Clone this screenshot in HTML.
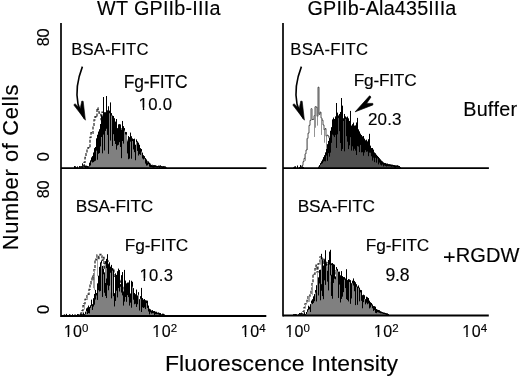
<!DOCTYPE html>
<html><head><meta charset="utf-8"><style>
html,body{margin:0;padding:0;background:#fff;width:520px;height:377px;overflow:hidden}
svg{display:block;filter:grayscale(1)}
text{font-family:"Liberation Sans",sans-serif;font-kerning:none;fill:#000;stroke:#000;stroke-width:0.15px}
.tp{stroke:#000;stroke-width:0.15px}
</style></head><body>
<svg width="520" height="377" viewBox="0 0 520 377">
<path d="M74.0,168.1V167.21h1V168.1zM75.0,168.1V166.38h1V168.1zM76.0,168.1V167.47h1V168.1zM77.0,168.1V166.55h1V168.1zM79.0,168.1V166.07h1V168.1zM80.0,168.1V166.36h1V168.1zM81.0,168.1V166.08h1V168.1zM82.0,168.1V165.47h1V168.1zM83.0,168.1V164.94h1V168.1zM84.0,168.1V164.58h1V168.1zM85.0,168.1V165.63h1V168.1zM86.0,168.1V165.71h1V168.1zM87.0,168.1V165.95h1V168.1z" fill="#808080" stroke="none"/>
<path d="M74.5,167.21V168.10M74.5,166.05V168.21M75.5,166.38V167.88M76.5,167.47V168.10M77.5,166.55V168.10M79.5,166.07V167.69M80.5,166.36V167.86M81.5,166.08V168.10M82.5,165.47V167.97M82.5,163.35V166.47M83.5,164.94V166.64M84.5,164.58V167.08M85.5,165.63V168.10M86.5,165.71V167.63M87.5,165.95V168.10" fill="none" stroke="#000" stroke-width="1.0"/>
<path d="M80.0,168.1V167.71H81.0V167.13H82.0V166.45H83.0V165.55H84.0V162.47H85.0V157.51H86.0V153.58H87.0V149.17H88.0V147.58H89.0V147.86H90.0V137.47H91.0V132.61H92.0V133.47H93.0V125.34H94.0V119.97H95.0V116.68H96.0V117.18H97.0V108.00H98.0V109.70H99.0V113.13H100.0V114.50H101.0V119.54H102.0V112.04H103.0V114.45H104.0V123.90H105.0V117.48H106.0V116.41H107.0V122.32H108.0V113.32H109.0V117.56H110.0V123.93H111.0V121.15H112.0V125.20H113.0V124.32H114.0V127.25H115.0V123.50H116.0V128.56H117.0V132.14H118.0V129.19H119.0V133.18H120.0V128.67H121.0V133.02H122.0V137.85H123.0V133.42H124.0V133.89H125.0V140.26H126.0V144.62H127.0V140.18H128.0V142.76H129.0V144.63H130.0V147.67H131.0V147.10H132.0V147.66H133.0V148.21H134.0V147.83H135.0V148.39H136.0V152.07H137.0V153.16H138.0V156.36H139.0V154.97H140.0V154.97H141.0V157.45H142.0V157.82H143.0V158.17H144.0V159.42H145.0V159.56H146.0V161.37H147.0V161.83H148.0V162.97H149.0V163.83H150.0V164.83H151.0V165.25H152.0V165.76H153.0V166.52H154.0V167.23H155.0V167.83H156.0V168.1" fill="none" stroke="#333" stroke-width="1.3" stroke-dasharray="3 1.5"/>
<path d="M88.0,168.1V166.35h1V168.1zM89.0,168.1V163.62h1V168.1zM90.0,168.1V160.48h1V168.1zM91.0,168.1V157.50h1V168.1zM92.0,168.1V156.13h1V168.1zM93.0,168.1V152.62h1V168.1zM94.0,168.1V148.18h1V168.1zM95.0,168.1V146.98h1V168.1zM96.0,168.1V139.80h1V168.1zM97.0,168.1V139.73h1V168.1zM98.0,168.1V131.63h1V168.1zM99.0,168.1V129.32h1V168.1zM100.0,168.1V132.72h1V168.1zM101.0,168.1V117.23h1V168.1zM102.0,168.1V116.25h1V168.1zM103.0,168.1V120.05h1V168.1zM104.0,168.1V112.32h1V168.1zM105.0,168.1V112.34h1V168.1zM106.0,168.1V105.93h1V168.1zM107.0,168.1V110.41h1V168.1zM108.0,168.1V111.59h1V168.1zM109.0,168.1V110.72h1V168.1zM110.0,168.1V113.58h1V168.1zM111.0,168.1V113.13h1V168.1zM112.0,168.1V118.49h1V168.1zM113.0,168.1V119.63h1V168.1zM114.0,168.1V118.33h1V168.1zM115.0,168.1V121.70h1V168.1zM116.0,168.1V122.55h1V168.1zM117.0,168.1V128.24h1V168.1zM118.0,168.1V124.46h1V168.1zM119.0,168.1V124.13h1V168.1zM120.0,168.1V124.54h1V168.1zM121.0,168.1V129.85h1V168.1zM122.0,168.1V124.19h1V168.1zM123.0,168.1V126.19h1V168.1zM124.0,168.1V128.12h1V168.1zM125.0,168.1V131.93h1V168.1zM126.0,168.1V132.14h1V168.1zM127.0,168.1V141.45h1V168.1zM128.0,168.1V136.11h1V168.1zM129.0,168.1V137.19h1V168.1zM130.0,168.1V139.11h1V168.1zM131.0,168.1V136.32h1V168.1zM132.0,168.1V138.56h1V168.1zM133.0,168.1V139.09h1V168.1zM134.0,168.1V138.72h1V168.1zM135.0,168.1V144.79h1V168.1zM136.0,168.1V139.50h1V168.1zM137.0,168.1V141.41h1V168.1zM138.0,168.1V142.75h1V168.1zM139.0,168.1V144.86h1V168.1zM140.0,168.1V148.24h1V168.1zM141.0,168.1V149.10h1V168.1zM142.0,168.1V152.67h1V168.1zM143.0,168.1V155.31h1V168.1zM144.0,168.1V156.19h1V168.1zM145.0,168.1V158.11h1V168.1zM146.0,168.1V159.81h1V168.1zM147.0,168.1V162.46h1V168.1zM148.0,168.1V161.73h1V168.1zM149.0,168.1V162.80h1V168.1zM150.0,168.1V164.31h1V168.1zM151.0,168.1V164.97h1V168.1zM152.0,168.1V165.35h1V168.1zM153.0,168.1V165.20h1V168.1zM154.0,168.1V165.13h1V168.1zM155.0,168.1V165.30h1V168.1zM156.0,168.1V165.79h1V168.1zM157.0,168.1V166.01h1V168.1zM158.0,168.1V165.63h1V168.1zM159.0,168.1V165.70h1V168.1zM160.0,168.1V165.77h1V168.1zM161.0,168.1V166.04h1V168.1zM162.0,168.1V166.29h1V168.1zM163.0,168.1V166.14h1V168.1zM164.0,168.1V166.33h1V168.1zM165.0,168.1V166.54h1V168.1zM166.0,168.1V167.58h1V168.1z" fill="#808080" stroke="none"/>
<path d="M88.5,166.35V167.85M89.5,163.62V166.36M89.5,162.70V164.62M90.5,160.48V165.45M91.5,157.50V161.60M92.5,156.13V162.53M93.5,152.62V162.12M94.5,148.18V161.28M95.5,146.98V160.68M96.5,139.80V150.70M96.5,138.33V140.80M97.5,139.73V159.77M97.5,134.73V140.73M98.5,131.63V153.75M99.5,129.32V153.08M100.5,132.72V146.40M100.5,124.03V133.72M101.5,117.23V137.00M101.5,115.08V118.23M102.5,116.25V153.30M103.5,120.05V134.61M104.5,112.32V150.49M105.5,112.34V130.92M106.5,105.93V128.79M107.5,110.41V134.90M108.5,111.59V153.87M108.5,106.25V112.59M109.5,110.72V113.22M110.5,113.58V140.56M111.5,113.13V115.63M112.5,118.49V145.98M112.5,115.50V119.49M113.5,119.63V134.23M114.5,118.33V140.92M115.5,121.70V143.99M116.5,122.55V149.60M117.5,128.24V145.50M118.5,124.46V144.81M119.5,124.13V142.16M120.5,124.54V146.99M121.5,129.85V158.21M122.5,124.19V141.01M122.5,120.96V125.19M123.5,126.19V143.62M124.5,128.12V130.62M125.5,131.93V134.43M126.5,132.14V134.64M127.5,141.45V153.42M128.5,136.11V159.21M129.5,137.19V158.59M130.5,139.11V141.61M130.5,132.58V140.11M131.5,136.32V158.76M132.5,138.56V141.06M133.5,139.09V149.45M134.5,138.72V152.16M135.5,144.79V160.24M136.5,139.50V142.00M137.5,141.41V150.93M138.5,142.75V155.54M139.5,144.86V154.17M140.5,148.24V154.88M141.5,149.10V151.60M142.5,152.67V158.49M143.5,155.31V159.46M144.5,156.19V158.69M145.5,158.11V163.62M146.5,159.81V165.58M147.5,162.46V165.37M148.5,161.73V164.23M149.5,162.80V166.74M150.5,164.31V167.04M151.5,164.97V167.04M152.5,165.35V167.41M153.5,165.20V167.70M154.5,165.13V167.34M155.5,165.30V167.05M156.5,165.79V167.29M157.5,166.01V167.51M158.5,165.63V167.13M159.5,165.70V168.10M160.5,165.77V167.27M160.5,165.45V166.77M161.5,166.04V167.54M162.5,166.29V168.10M163.5,166.14V168.10M164.5,166.33V167.83M165.5,166.54V168.04M166.5,167.58V168.10M103.5,97.00V123.05M106.5,96.00V108.93M110.5,102.40V116.58M113.5,116.00V122.63M116.5,119.00V125.55M122.5,125.30V127.19" fill="none" stroke="#000" stroke-width="1.0"/>
<path d="M293.0,168.1V167.52h1V168.1zM294.0,168.1V166.64h1V168.1zM295.0,168.1V166.43h1V168.1zM297.0,168.1V166.62h1V168.1zM299.0,168.1V166.98h1V168.1zM300.0,168.1V166.58h1V168.1zM301.0,168.1V166.73h1V168.1zM302.0,168.1V166.62h1V168.1zM303.0,168.1V166.99h1V168.1z" fill="#555555" stroke="none"/>
<path d="M293.5,167.52V168.10M294.5,166.64V168.10M295.5,166.43V168.10M297.5,166.62V168.10M297.5,165.52V167.62M299.5,166.98V168.10M300.5,166.58V168.10M300.5,165.07V167.58M301.5,166.73V168.10M302.5,166.62V168.10M303.5,166.99V168.10" fill="none" stroke="#000" stroke-width="1.0"/>
<path d="M299.0,168.1V168.10H300.0V167.56H301.0V167.05H302.0V165.42H303.0V161.66H304.0V158.40H305.0V153.91H306.0V149.98H307.0V138.41H308.0V133.12H309.0V125.35H310.0V120.36H311.0V108.70H312.0V119.54H313.0V119.27H314.0V115.72H315.0V106.74H316.0V107.12H317.0V116.33H318.0V87.20H319.0V114.34H320.0V112.12H321.0V118.12H322.0V120.16H323.0V124.94H324.0V129.85H325.0V128.57H326.0V136.22H327.0V135.13H328.0V136.04H329.0V138.11H330.0V141.37H331.0V146.24H332.0V149.83H333.0V152.36H334.0V154.72H335.0V157.92H336.0V161.01H337.0V162.64H338.0V165.23H339.0V167.10H340.0V168.1" fill="none" stroke="#2a2a2a" stroke-width="0.8"/>
<path d="M305.5,153.91V160.77M307.5,138.41V150.05M311.5,108.70V119.65M314.5,115.72V136.96M315.5,106.74V127.73M317.5,116.33V125.64M321.5,118.12V134.93M324.5,129.85V142.71M326.5,136.22V150.15M329.5,138.11V145.96" fill="none" stroke="#888" stroke-width="0.9"/>
<path d="M318.0,168.1V166.74h1V168.1zM319.0,168.1V165.20h1V168.1zM320.0,168.1V163.16h1V168.1zM321.0,168.1V161.51h1V168.1zM322.0,168.1V159.63h1V168.1zM323.0,168.1V157.22h1V168.1zM324.0,168.1V155.33h1V168.1zM325.0,168.1V152.54h1V168.1zM326.0,168.1V149.06h1V168.1zM327.0,168.1V144.34h1V168.1zM328.0,168.1V140.91h1V168.1zM329.0,168.1V138.09h1V168.1zM330.0,168.1V130.87h1V168.1zM331.0,168.1V127.33h1V168.1zM332.0,168.1V119.58h1V168.1zM333.0,168.1V117.64h1V168.1zM334.0,168.1V119.00h1V168.1zM335.0,168.1V116.60h1V168.1zM336.0,168.1V113.51h1V168.1zM337.0,168.1V112.75h1V168.1zM338.0,168.1V115.62h1V168.1zM339.0,168.1V113.95h1V168.1zM340.0,168.1V111.96h1V168.1zM341.0,168.1V113.80h1V168.1zM342.0,168.1V114.47h1V168.1zM343.0,168.1V118.42h1V168.1zM344.0,168.1V113.96h1V168.1zM345.0,168.1V116.59h1V168.1zM346.0,168.1V117.53h1V168.1zM347.0,168.1V120.79h1V168.1zM348.0,168.1V118.48h1V168.1zM349.0,168.1V120.98h1V168.1zM350.0,168.1V122.53h1V168.1zM351.0,168.1V125.68h1V168.1zM352.0,168.1V124.34h1V168.1zM353.0,168.1V122.72h1V168.1zM354.0,168.1V125.73h1V168.1zM355.0,168.1V125.56h1V168.1zM356.0,168.1V126.89h1V168.1zM357.0,168.1V127.96h1V168.1zM358.0,168.1V129.54h1V168.1zM359.0,168.1V131.57h1V168.1zM360.0,168.1V133.75h1V168.1zM361.0,168.1V135.08h1V168.1zM362.0,168.1V136.58h1V168.1zM363.0,168.1V136.09h1V168.1zM364.0,168.1V138.78h1V168.1zM365.0,168.1V140.45h1V168.1zM366.0,168.1V139.77h1V168.1zM367.0,168.1V141.47h1V168.1zM368.0,168.1V142.52h1V168.1zM369.0,168.1V143.94h1V168.1zM370.0,168.1V145.76h1V168.1zM371.0,168.1V148.12h1V168.1zM372.0,168.1V148.08h1V168.1zM373.0,168.1V149.71h1V168.1zM374.0,168.1V152.58h1V168.1zM375.0,168.1V153.39h1V168.1zM376.0,168.1V154.87h1V168.1zM377.0,168.1V155.89h1V168.1zM378.0,168.1V156.95h1V168.1zM379.0,168.1V158.34h1V168.1zM380.0,168.1V159.53h1V168.1zM381.0,168.1V160.68h1V168.1zM382.0,168.1V161.54h1V168.1zM383.0,168.1V162.52h1V168.1zM384.0,168.1V162.95h1V168.1zM385.0,168.1V163.10h1V168.1zM386.0,168.1V163.69h1V168.1zM387.0,168.1V163.63h1V168.1zM388.0,168.1V164.15h1V168.1zM389.0,168.1V164.20h1V168.1zM390.0,168.1V164.46h1V168.1zM391.0,168.1V164.65h1V168.1zM392.0,168.1V164.79h1V168.1zM393.0,168.1V164.99h1V168.1zM394.0,168.1V165.14h1V168.1zM395.0,168.1V165.43h1V168.1zM396.0,168.1V165.55h1V168.1zM397.0,168.1V165.70h1V168.1zM398.0,168.1V165.85h1V168.1zM399.0,168.1V166.04h1V168.1zM400.0,168.1V167.45h1V168.1z" fill="#4f4f4f" stroke="none"/>
<path d="M318.5,166.74V168.10M319.5,165.20V167.13M320.5,163.16V164.92M321.5,161.51V163.88M322.5,159.63V163.29M323.5,157.22V161.55M324.5,155.33V161.13M325.5,152.54V161.33M326.5,149.06V155.57M327.5,144.34V160.89M328.5,140.91V153.15M329.5,138.09V156.67M330.5,130.87V152.65M331.5,127.33V142.85M332.5,119.58V134.58M333.5,117.64V135.49M334.5,119.00V137.07M335.5,116.60V134.94M336.5,113.51V147.94M337.5,112.75V134.32M338.5,115.62V118.12M339.5,113.95V131.13M340.5,111.96V143.00M341.5,113.80V150.97M342.5,114.47V148.94M342.5,105.63V115.47M343.5,118.42V120.92M344.5,113.96V151.33M345.5,116.59V119.09M346.5,117.53V136.16M347.5,120.79V141.72M347.5,116.56V121.79M348.5,118.48V149.05M349.5,120.98V145.34M350.5,122.53V137.16M351.5,125.68V150.60M352.5,124.34V146.33M353.5,122.72V150.70M354.5,125.73V148.84M355.5,125.56V150.64M356.5,126.89V154.99M356.5,122.46V127.89M357.5,127.96V146.11M358.5,129.54V146.57M359.5,131.57V152.10M360.5,133.75V144.95M361.5,135.08V152.36M362.5,136.58V152.17M363.5,136.09V155.71M364.5,138.78V152.47M365.5,140.45V150.17M366.5,139.77V151.83M367.5,141.47V151.49M368.5,142.52V156.16M368.5,139.23V143.52M369.5,143.94V152.63M369.5,141.07V144.94M370.5,145.76V152.74M371.5,148.12V156.29M372.5,148.08V160.58M373.5,149.71V157.69M374.5,152.58V162.14M375.5,153.39V157.83M376.5,154.87V162.68M377.5,155.89V158.39M378.5,156.95V164.42M379.5,158.34V162.60M380.5,159.53V164.65M381.5,160.68V165.48M382.5,161.54V164.55M383.5,162.52V166.42M384.5,162.95V165.50M385.5,163.10V166.03M386.5,163.69V166.54M387.5,163.63V166.13M388.5,164.15V166.31M389.5,164.20V166.35M390.5,164.46V166.39M391.5,164.65V166.77M392.5,164.79V166.51M393.5,164.99V166.79M394.5,165.14V167.64M395.5,165.43V167.93M396.5,165.55V167.05M397.5,165.70V167.20M397.5,165.35V166.70M398.5,165.85V167.35M399.5,166.04V167.54M400.5,167.45V168.10M400.5,167.35V168.45M336.5,103.00V116.51M341.5,98.00V116.80M350.5,110.90V125.53M357.5,117.90V130.96M369.5,133.80V146.94" fill="none" stroke="#000" stroke-width="1.0"/>
<path d="M63.0,316V315.40h1V316zM64.0,316V314.91h1V316zM65.0,316V314.89h1V316zM66.0,316V314.42h1V316zM67.0,316V315.64h1V316zM68.0,316V315.15h1V316zM69.0,316V314.34h1V316zM70.0,316V314.76h1V316zM72.0,316V314.37h1V316zM73.0,316V315.11h1V316zM74.0,316V314.70h1V316zM75.0,316V314.99h1V316zM76.0,316V315.42h1V316zM77.0,316V314.05h1V316zM78.0,316V314.09h1V316zM79.0,316V314.96h1V316zM80.0,316V313.65h1V316zM81.0,316V314.06h1V316zM82.0,316V314.27h1V316zM83.0,316V313.77h1V316zM84.0,316V314.91h1V316z" fill="#808080" stroke="none"/>
<path d="M63.5,315.40V316.00M63.5,314.83V316.40M64.5,314.91V316.00M64.5,314.42V315.91M65.5,314.89V316.00M66.5,314.42V316.00M66.5,313.86V315.42M68.5,315.15V316.00M69.5,314.34V316.00M70.5,314.76V316.00M72.5,314.37V316.00M73.5,315.11V316.00M74.5,314.70V316.00M75.5,314.99V316.00M75.5,314.56V315.99M76.5,315.42V316.00M77.5,314.05V315.55M78.5,314.09V315.76M79.5,314.96V316.00M80.5,313.65V315.50M81.5,314.06V316.00M82.5,314.27V315.87M83.5,313.77V316.00M83.5,312.46V314.77M84.5,314.91V316.00M84.5,314.04V315.91" fill="none" stroke="#000" stroke-width="1.0"/>
<path d="M78.0,316V315.52H79.0V314.55H80.0V313.68H81.0V312.91H82.0V310.55H83.0V305.63H84.0V303.55H85.0V299.35H86.0V298.20H87.0V294.57H88.0V294.26H89.0V289.39H90.0V283.92H91.0V280.85H92.0V276.14H93.0V279.61H94.0V269.57H95.0V259.13H96.0V259.74H97.0V255.00H98.0V259.33H99.0V256.85H100.0V254.33H101.0V254.44H102.0V260.35H103.0V257.38H104.0V268.96H105.0V263.77H106.0V268.14H107.0V260.88H108.0V269.01H109.0V270.87H110.0V272.77H111.0V270.13H112.0V275.84H113.0V268.78H114.0V277.26H115.0V276.79H116.0V283.83H117.0V287.34H118.0V289.02H119.0V282.08H120.0V280.11H121.0V285.53H122.0V286.82H123.0V290.70H124.0V292.10H125.0V291.46H126.0V293.03H127.0V293.78H128.0V295.01H129.0V294.82H130.0V297.09H131.0V296.55H132.0V299.97H133.0V298.60H134.0V300.96H135.0V300.58H136.0V302.63H137.0V303.83H138.0V303.32H139.0V304.97H140.0V305.38H141.0V306.55H142.0V307.43H143.0V308.29H144.0V307.66H145.0V309.99H146.0V309.31H147.0V311.45H148.0V312.18H149.0V311.88H150.0V312.93H151.0V313.58H152.0V313.72H153.0V314.69H154.0V315.07H155.0V315.70H156.0V316" fill="none" stroke="#333" stroke-width="1.3" stroke-dasharray="3 1.5"/>
<path d="M84.0,316V314.64h1V316zM85.0,316V311.75h1V316zM86.0,316V308.51h1V316zM87.0,316V307.55h1V316zM88.0,316V305.64h1V316zM89.0,316V307.12h1V316zM90.0,316V305.37h1V316zM91.0,316V299.72h1V316zM92.0,316V304.27h1V316zM93.0,316V298.34h1V316zM94.0,316V293.92h1V316zM95.0,316V289.91h1V316zM96.0,316V292.98h1V316zM97.0,316V283.47h1V316zM98.0,316V275.81h1V316zM99.0,316V266.88h1V316zM100.0,316V262.43h1V316zM101.0,316V260.84h1V316zM102.0,316V265.94h1V316zM103.0,316V271.81h1V316zM104.0,316V272.51h1V316zM105.0,316V261.24h1V316zM106.0,316V258.88h1V316zM107.0,316V264.53h1V316zM108.0,316V264.23h1V316zM109.0,316V262.38h1V316zM110.0,316V266.73h1V316zM111.0,316V274.25h1V316zM112.0,316V268.15h1V316zM113.0,316V269.62h1V316zM114.0,316V293.26h1V316zM115.0,316V273.45h1V316zM116.0,316V274.88h1V316zM117.0,316V271.27h1V316zM118.0,316V268.67h1V316zM119.0,316V272.75h1V316zM120.0,316V284.21h1V316zM121.0,316V275.23h1V316zM122.0,316V272.07h1V316zM123.0,316V291.63h1V316zM124.0,316V273.71h1V316zM125.0,316V280.63h1V316zM126.0,316V283.44h1V316zM127.0,316V282.66h1V316zM128.0,316V282.60h1V316zM129.0,316V280.35h1V316zM130.0,316V293.62h1V316zM131.0,316V280.86h1V316zM132.0,316V284.16h1V316zM133.0,316V288.17h1V316zM134.0,316V293.04h1V316zM135.0,316V294.32h1V316zM136.0,316V292.07h1V316zM137.0,316V297.44h1V316zM138.0,316V292.24h1V316zM139.0,316V299.29h1V316zM140.0,316V296.23h1V316zM141.0,316V300.51h1V316zM142.0,316V298.12h1V316zM143.0,316V300.84h1V316zM144.0,316V299.02h1V316zM145.0,316V300.29h1V316zM146.0,316V300.59h1V316zM147.0,316V303.43h1V316zM148.0,316V305.64h1V316zM149.0,316V308.81h1V316zM150.0,316V309.45h1V316zM151.0,316V311.11h1V316zM152.0,316V310.17h1V316zM153.0,316V311.10h1V316zM154.0,316V311.04h1V316zM155.0,316V311.78h1V316zM156.0,316V311.83h1V316zM157.0,316V312.73h1V316zM158.0,316V312.51h1V316zM159.0,316V312.88h1V316zM160.0,316V313.04h1V316zM161.0,316V314.36h1V316zM162.0,316V313.71h1V316zM163.0,316V313.85h1V316zM164.0,316V314.48h1V316zM165.0,316V315.55h1V316z" fill="#808080" stroke="none"/>
<path d="M84.5,314.64V316.00M85.5,311.75V314.32M86.5,308.51V311.01M87.5,307.55V314.11M88.5,305.64V313.00M89.5,307.12V313.37M90.5,305.37V307.87M91.5,299.72V305.92M92.5,304.27V309.97M93.5,298.34V306.54M94.5,293.92V304.68M95.5,289.91V299.54M96.5,292.98V295.48M97.5,283.47V299.92M98.5,275.81V290.24M99.5,266.88V291.50M100.5,262.43V290.92M101.5,260.84V263.34M102.5,265.94V296.93M103.5,271.81V274.31M103.5,268.74V272.81M104.5,272.51V292.76M105.5,261.24V295.92M106.5,258.88V298.05M107.5,264.53V285.29M108.5,264.23V290.28M109.5,262.38V285.74M110.5,266.73V284.87M111.5,274.25V298.39M111.5,264.88V275.25M112.5,268.15V270.65M113.5,269.62V296.20M114.5,293.26V306.46M115.5,273.45V300.98M116.5,274.88V290.74M117.5,271.27V297.38M118.5,268.67V288.03M119.5,272.75V291.53M119.5,270.04V273.75M120.5,284.21V286.71M121.5,275.23V292.57M122.5,272.07V295.36M123.5,291.63V305.59M124.5,273.71V301.58M125.5,280.63V296.98M126.5,283.44V301.84M127.5,282.66V295.09M128.5,282.60V297.10M129.5,280.35V305.59M130.5,293.62V302.68M131.5,280.86V307.72M132.5,284.16V286.66M132.5,281.79V285.16M133.5,288.17V299.69M134.5,293.04V304.25M135.5,294.32V303.78M136.5,292.07V306.95M136.5,289.57V293.07M137.5,297.44V304.26M137.5,295.48V298.44M138.5,292.24V294.74M139.5,299.29V310.52M140.5,296.23V298.73M141.5,300.51V312.01M141.5,299.26V301.51M142.5,298.12V307.31M143.5,300.84V308.03M143.5,299.56V301.84M144.5,299.02V307.42M145.5,300.29V309.09M146.5,300.59V303.09M147.5,303.43V307.91M147.5,300.66V304.43M148.5,305.64V311.52M149.5,308.81V314.42M150.5,309.45V312.36M151.5,311.11V313.61M151.5,310.46V312.11M152.5,310.17V313.24M153.5,311.10V313.21M154.5,311.04V314.98M155.5,311.78V314.28M156.5,311.83V314.33M157.5,312.73V314.23M158.5,312.51V314.52M159.5,312.88V314.95M160.5,313.04V315.54M161.5,314.36V315.86M162.5,313.71V315.23M163.5,313.85V315.35M164.5,314.48V315.98M165.5,315.55V316.00M107.5,254.20V267.53M124.5,269.90V276.71M141.5,287.90V303.51" fill="none" stroke="#000" stroke-width="1.0"/>
<path d="M84.5,303.55V309.57M87.5,294.57V300.04M93.5,279.61V288.16M94.5,269.57V290.18M97.5,255.00V276.18M105.5,263.77V283.03M106.5,268.14V278.53M110.5,272.77V292.61M112.5,275.84V293.19" fill="none" stroke="#999" stroke-width="0.9"/>
<path d="M293.0,315.6V314.68h1V315.6zM294.0,315.6V314.18h1V315.6zM295.0,315.6V314.03h1V315.6zM296.0,315.6V314.34h1V315.6zM298.0,315.6V314.33h1V315.6zM299.0,315.6V313.06h1V315.6zM300.0,315.6V313.21h1V315.6zM301.0,315.6V313.90h1V315.6zM302.0,315.6V314.47h1V315.6zM303.0,315.6V313.99h1V315.6zM304.0,315.6V313.42h1V315.6zM305.0,315.6V315.04h1V315.6z" fill="#808080" stroke="none"/>
<path d="M293.5,314.68V315.60M293.5,314.30V315.68M294.5,314.18V315.60M295.5,314.03V315.60M296.5,314.34V315.60M298.5,314.33V315.60M299.5,313.06V314.56M300.5,313.21V314.81M301.5,313.90V315.60M301.5,312.65V314.90M302.5,314.47V315.60M302.5,313.37V315.47M303.5,313.99V315.60M304.5,313.42V314.96M304.5,312.17V314.42M305.5,315.04V315.60M305.5,314.65V316.04" fill="none" stroke="#000" stroke-width="1.0"/>
<path d="M302.0,315.6V314.41H303.0V311.53H304.0V307.71H305.0V303.85H306.0V303.00H307.0V300.45H308.0V295.86H309.0V296.18H310.0V293.34H311.0V289.80H312.0V283.59H313.0V274.04H314.0V274.09H315.0V268.68H316.0V265.25H317.0V272.09H318.0V263.94H319.0V262.07H320.0V256.94H321.0V259.26H322.0V257.59H323.0V263.04H324.0V259.30H325.0V260.67H326.0V262.74H327.0V264.89H328.0V264.73H329.0V263.15H330.0V275.34H331.0V265.15H332.0V265.32H333.0V264.79H334.0V270.77H335.0V270.80H336.0V279.02H337.0V277.94H338.0V277.95H339.0V273.73H340.0V280.94H341.0V283.12H342.0V277.01H343.0V285.04H344.0V279.76H345.0V286.77H346.0V286.09H347.0V283.53H348.0V283.23H349.0V285.71H350.0V290.06H351.0V289.71H352.0V290.75H353.0V294.32H354.0V293.01H355.0V292.66H356.0V295.24H357.0V298.77H358.0V300.31H359.0V299.17H360.0V299.12H361.0V300.91H362.0V301.77H363.0V303.00H364.0V303.71H365.0V304.97H366.0V306.63H367.0V306.98H368.0V308.31H369.0V308.57H370.0V308.21H371.0V309.54H372.0V310.23H373.0V311.14H374.0V311.63H375.0V312.44H376.0V313.43H377.0V314.09H378.0V314.52H379.0V315.26H380.0V315.6" fill="none" stroke="#333" stroke-width="1.3" stroke-dasharray="3 1.5"/>
<path d="M305.0,315.6V314.28h1V315.6zM306.0,315.6V311.99h1V315.6zM307.0,315.6V309.38h1V315.6zM308.0,315.6V307.49h1V315.6zM309.0,315.6V306.83h1V315.6zM310.0,315.6V304.24h1V315.6zM311.0,315.6V300.64h1V315.6zM312.0,315.6V299.32h1V315.6zM313.0,315.6V296.41h1V315.6zM314.0,315.6V294.16h1V315.6zM315.0,315.6V290.07h1V315.6zM316.0,315.6V285.31h1V315.6zM317.0,315.6V277.16h1V315.6zM318.0,315.6V277.47h1V315.6zM319.0,315.6V269.94h1V315.6zM320.0,315.6V269.80h1V315.6zM321.0,315.6V264.22h1V315.6zM322.0,315.6V266.62h1V315.6zM323.0,315.6V265.64h1V315.6zM324.0,315.6V259.59h1V315.6zM325.0,315.6V260.01h1V315.6zM326.0,315.6V263.26h1V315.6zM327.0,315.6V267.13h1V315.6zM328.0,315.6V260.05h1V315.6zM329.0,315.6V262.10h1V315.6zM330.0,315.6V261.77h1V315.6zM331.0,315.6V263.45h1V315.6zM332.0,315.6V263.09h1V315.6zM333.0,315.6V264.15h1V315.6zM334.0,315.6V265.02h1V315.6zM335.0,315.6V276.79h1V315.6zM336.0,315.6V267.08h1V315.6zM337.0,315.6V268.88h1V315.6zM338.0,315.6V271.79h1V315.6zM339.0,315.6V271.73h1V315.6zM340.0,315.6V275.65h1V315.6zM341.0,315.6V271.17h1V315.6zM342.0,315.6V276.14h1V315.6zM343.0,315.6V277.11h1V315.6zM344.0,315.6V277.18h1V315.6zM345.0,315.6V278.59h1V315.6zM346.0,315.6V278.58h1V315.6zM347.0,315.6V280.11h1V315.6zM348.0,315.6V279.11h1V315.6zM349.0,315.6V279.54h1V315.6zM350.0,315.6V280.24h1V315.6zM351.0,315.6V283.31h1V315.6zM352.0,315.6V280.76h1V315.6zM353.0,315.6V283.00h1V315.6zM354.0,315.6V280.92h1V315.6zM355.0,315.6V282.35h1V315.6zM356.0,315.6V284.25h1V315.6zM357.0,315.6V288.43h1V315.6zM358.0,315.6V285.57h1V315.6zM359.0,315.6V287.73h1V315.6zM360.0,315.6V289.89h1V315.6zM361.0,315.6V290.21h1V315.6zM362.0,315.6V295.27h1V315.6zM363.0,315.6V294.74h1V315.6zM364.0,315.6V296.34h1V315.6zM365.0,315.6V299.16h1V315.6zM366.0,315.6V296.79h1V315.6zM367.0,315.6V297.36h1V315.6zM368.0,315.6V299.24h1V315.6zM369.0,315.6V300.75h1V315.6zM370.0,315.6V302.29h1V315.6zM371.0,315.6V302.97h1V315.6zM372.0,315.6V304.59h1V315.6zM373.0,315.6V306.09h1V315.6zM374.0,315.6V306.22h1V315.6zM375.0,315.6V308.32h1V315.6zM376.0,315.6V309.03h1V315.6zM377.0,315.6V309.73h1V315.6zM378.0,315.6V309.98h1V315.6zM379.0,315.6V310.34h1V315.6zM380.0,315.6V311.27h1V315.6zM381.0,315.6V311.71h1V315.6zM382.0,315.6V312.12h1V315.6zM383.0,315.6V312.56h1V315.6zM384.0,315.6V312.68h1V315.6zM385.0,315.6V312.98h1V315.6zM386.0,315.6V313.29h1V315.6zM387.0,315.6V313.44h1V315.6zM388.0,315.6V314.02h1V315.6zM389.0,315.6V315.13h1V315.6z" fill="#808080" stroke="none"/>
<path d="M305.5,314.28V315.60M306.5,311.99V314.02M307.5,309.38V311.78M308.5,307.49V309.84M308.5,305.72V308.49M309.5,306.83V309.33M310.5,304.24V312.03M311.5,300.64V303.14M312.5,299.32V304.10M313.5,296.41V302.95M314.5,294.16V301.22M315.5,290.07V292.57M316.5,285.31V301.44M317.5,277.16V288.23M318.5,277.47V295.48M319.5,269.94V283.48M320.5,269.80V300.32M321.5,264.22V290.73M321.5,253.83V265.22M322.5,266.62V296.12M322.5,260.10V267.62M323.5,265.64V299.21M324.5,259.59V280.32M325.5,260.01V284.89M325.5,250.22V261.01M326.5,263.26V265.76M327.5,267.13V281.62M328.5,260.05V290.42M329.5,262.10V264.60M329.5,251.58V263.10M330.5,261.77V276.14M331.5,263.45V295.96M332.5,263.09V298.73M333.5,264.15V282.94M334.5,265.02V278.69M335.5,276.79V279.29M336.5,267.08V269.58M337.5,268.88V271.38M338.5,271.79V297.96M339.5,271.73V284.56M340.5,275.65V302.48M341.5,271.17V298.90M342.5,276.14V296.65M343.5,277.11V292.11M344.5,277.18V279.68M345.5,278.59V288.07M346.5,278.58V299.12M347.5,280.11V300.07M348.5,279.11V301.44M349.5,279.54V282.04M350.5,280.24V303.84M351.5,283.31V298.48M352.5,280.76V283.26M353.5,283.00V285.50M353.5,278.42V284.00M354.5,280.92V291.24M355.5,282.35V305.12M356.5,284.25V286.75M357.5,288.43V304.82M357.5,286.54V289.43M358.5,285.57V288.07M359.5,287.73V301.35M360.5,289.89V292.39M361.5,290.21V300.83M362.5,295.27V308.29M363.5,294.74V302.17M364.5,296.34V298.84M364.5,295.23V297.34M365.5,299.16V304.35M366.5,296.79V302.71M367.5,297.36V304.26M368.5,299.24V303.48M368.5,298.04V300.24M369.5,300.75V308.41M370.5,302.29V307.52M371.5,302.97V305.47M372.5,304.59V308.24M373.5,306.09V310.91M374.5,306.22V310.14M375.5,308.32V312.87M375.5,306.70V309.32M376.5,309.03V313.17M377.5,309.73V312.23M378.5,309.98V312.48M379.5,310.34V312.84M380.5,311.27V313.35M381.5,311.71V313.36M382.5,312.12V313.62M383.5,312.56V314.06M384.5,312.68V314.18M385.5,312.98V314.48M386.5,313.29V315.60M387.5,313.44V314.94M388.5,314.02V315.52M389.5,315.13V315.60M330.5,249.80V264.77M346.5,269.20V281.58" fill="none" stroke="#000" stroke-width="1.0"/>
<path d="M305.5,303.85V308.62M308.5,295.86V302.04M309.5,296.18V301.85M312.5,283.59V295.29M317.5,272.09V292.70M320.5,256.94V264.70M321.5,259.26V284.21M327.5,264.89V270.79M330.5,275.34V281.73M331.5,265.15V274.79" fill="none" stroke="#999" stroke-width="0.9"/>
<line x1="61.0" y1="23" x2="61.0" y2="317" stroke="#000" stroke-width="1.7"/>
<line x1="283" y1="23" x2="283" y2="316.5" stroke="#000" stroke-width="1.7"/>
<line x1="61.0" y1="168.1" x2="266.5" y2="168.1" stroke="#000" stroke-width="1.7"/>
<line x1="283" y1="168.1" x2="488.9" y2="168.1" stroke="#000" stroke-width="1.8"/>
<line x1="61.0" y1="316" x2="266.3" y2="316" stroke="#000" stroke-width="1.9"/>
<line x1="283" y1="315.5" x2="488.8" y2="315.5" stroke="#000" stroke-width="1.9"/>
<path d="M82.4,66.6 C78,78 75.5,92 78,104 C79.3,110 81.5,114 84.5,118.5" fill="none" stroke="#000" stroke-width="1.6"/>
<path d="M85.4,120.2 L73.8,105.0 L74.9,103.7 L80.2,108.4 L81.8,101.0 L83.2,101.3 Z" fill="#000" stroke="#000" stroke-width="0.6" stroke-linejoin="round"/>
<path d="M301.4,66.6 C297,78 294.5,92 297,104 C298.3,110 300.5,114 303.5,118.5" fill="none" stroke="#000" stroke-width="1.6"/>
<path d="M304.4,120.2 L292.8,105.0 L293.9,103.7 L299.2,108.4 L300.8,101.0 L302.2,101.3 Z" fill="#000" stroke="#000" stroke-width="0.6" stroke-linejoin="round"/>
<path d="M355.2,111.8 L369.6,95.8 L371.0,97.0 L366.6,103.4 L372.8,103.4 L372.9,104.9 Z" fill="#000" stroke="#000" stroke-width="0.7" stroke-linejoin="round"/>
<text x="97.01" y="15.00" font-size="19.77" letter-spacing="0.22">WT GPIIb-IIIa</text>
<text x="307.51" y="15.40" font-size="19.77" letter-spacing="0.18">GPIIb-Ala435IIIa</text>
<text transform="translate(17.50,0) rotate(-90)" x="-250.30" y="0" font-size="21.95" letter-spacing="0.60">Number of Cells</text>
<text x="71.13" y="55.00" font-size="16.72" letter-spacing="0.19">BSA-FITC</text>
<text x="123.77" y="88.20" font-size="17.44" letter-spacing="-0.19">Fg-FITC</text>
<clipPath id="c1"><path clip-rule="evenodd" d="M0,0H520V377H0Z M138.87,107.45H142.78V111.20H138.87Z M144.29,107.45H147.67V111.20H144.29Z"/></clipPath>
<text x="138.59" y="109.70" font-size="16.72" letter-spacing="0.31" clip-path="url(#c1)">10.0</text>
<text x="290.33" y="54.60" font-size="16.72" letter-spacing="0.24">BSA-FITC</text>
<text x="353.68" y="86.20" font-size="17.30" letter-spacing="-0.23">Fg-FITC</text>
<text x="367.94" y="124.80" font-size="17.01" letter-spacing="0.17">20.3</text>
<text x="463.28" y="115.80" font-size="19.77" letter-spacing="0.20">Buffer</text>
<text x="75.78" y="212.40" font-size="17.30" letter-spacing="-0.17">BSA-FITC</text>
<text x="124.78" y="251.00" font-size="17.30" letter-spacing="-0.13">Fg-FITC</text>
<clipPath id="c2"><path clip-rule="evenodd" d="M0,0H520V377H0Z M139.77,278.36H143.65V282.10H139.77Z M145.16,278.36H148.51V282.10H145.16Z"/></clipPath>
<text x="139.51" y="280.60" font-size="16.57" letter-spacing="0.39" clip-path="url(#c2)">10.3</text>
<text x="297.68" y="212.00" font-size="17.30" letter-spacing="-0.20">BSA-FITC</text>
<text x="365.78" y="251.00" font-size="17.30" letter-spacing="-0.13">Fg-FITC</text>
<text x="385.38" y="281.00" font-size="17.59" letter-spacing="-0.13">9.8</text>
<path d="M444,257.1H454.6M449.55,252.3V262.1" stroke="#000" stroke-width="1.6" fill="none"/>
<text x="455.65" y="261.90" font-size="20.06" letter-spacing="0.14">RGDW</text>
<text x="164.92" y="370.80" font-size="22.97" letter-spacing="0.16">Fluorescence Intensity</text>
<text transform="translate(49.10,0) rotate(-90)" x="-46.21" y="0" font-size="16.28" letter-spacing="-0.26">80</text>
<text transform="translate(49.10,0) rotate(-90)" x="-161.34" y="0" font-size="16.28" letter-spacing="0.00">0</text>
<text transform="translate(49.10,0) rotate(-90)" x="-198.31" y="0" font-size="16.28" letter-spacing="-0.16">80</text>
<text transform="translate(49.10,0) rotate(-90)" x="-314.04" y="0" font-size="16.28" letter-spacing="0.00">0</text>
<clipPath id="c3"><path clip-rule="evenodd" d="M0,0H520V377H0Z M63.88,335.10H67.66V338.80H63.88Z M69.12,335.10H72.38V338.80H69.12Z"/></clipPath>
<text x="63.66" y="337.30" font-size="16.00" letter-spacing="0.57" clip-path="url(#c3)">10<tspan x="82.10" y="332.2" font-size="11.5" letter-spacing="0">0</tspan></text>
<clipPath id="c4"><path clip-rule="evenodd" d="M0,0H520V377H0Z M152.48,335.10H156.26V338.80H152.48Z M157.72,335.10H160.98V338.80H157.72Z"/></clipPath>
<text x="152.26" y="337.30" font-size="16.00" letter-spacing="0.57" clip-path="url(#c4)">10<tspan x="170.70" y="332.2" font-size="11.5" letter-spacing="0">2</tspan></text>
<clipPath id="c5"><path clip-rule="evenodd" d="M0,0H520V377H0Z M241.08,335.10H244.86V338.80H241.08Z M246.32,335.10H249.58V338.80H246.32Z"/></clipPath>
<text x="240.86" y="337.30" font-size="16.00" letter-spacing="0.57" clip-path="url(#c5)">10<tspan x="259.30" y="332.2" font-size="11.5" letter-spacing="0">4</tspan></text>
<clipPath id="c6"><path clip-rule="evenodd" d="M0,0H520V377H0Z M285.38,335.10H289.16V338.80H285.38Z M290.62,335.10H293.88V338.80H290.62Z"/></clipPath>
<text x="285.16" y="337.30" font-size="16.00" letter-spacing="0.57" clip-path="url(#c6)">10<tspan x="303.60" y="332.2" font-size="11.5" letter-spacing="0">0</tspan></text>
<clipPath id="c7"><path clip-rule="evenodd" d="M0,0H520V377H0Z M373.93,335.10H377.71V338.80H373.93Z M379.17,335.10H382.43V338.80H379.17Z"/></clipPath>
<text x="373.71" y="337.30" font-size="16.00" letter-spacing="0.57" clip-path="url(#c7)">10<tspan x="392.15" y="332.2" font-size="11.5" letter-spacing="0">2</tspan></text>
<clipPath id="c8"><path clip-rule="evenodd" d="M0,0H520V377H0Z M462.48,335.10H466.26V338.80H462.48Z M467.72,335.10H470.98V338.80H467.72Z"/></clipPath>
<text x="462.26" y="337.30" font-size="16.00" letter-spacing="0.57" clip-path="url(#c8)">10<tspan x="480.70" y="332.2" font-size="11.5" letter-spacing="0">4</tspan></text>
</svg>
</body></html>
